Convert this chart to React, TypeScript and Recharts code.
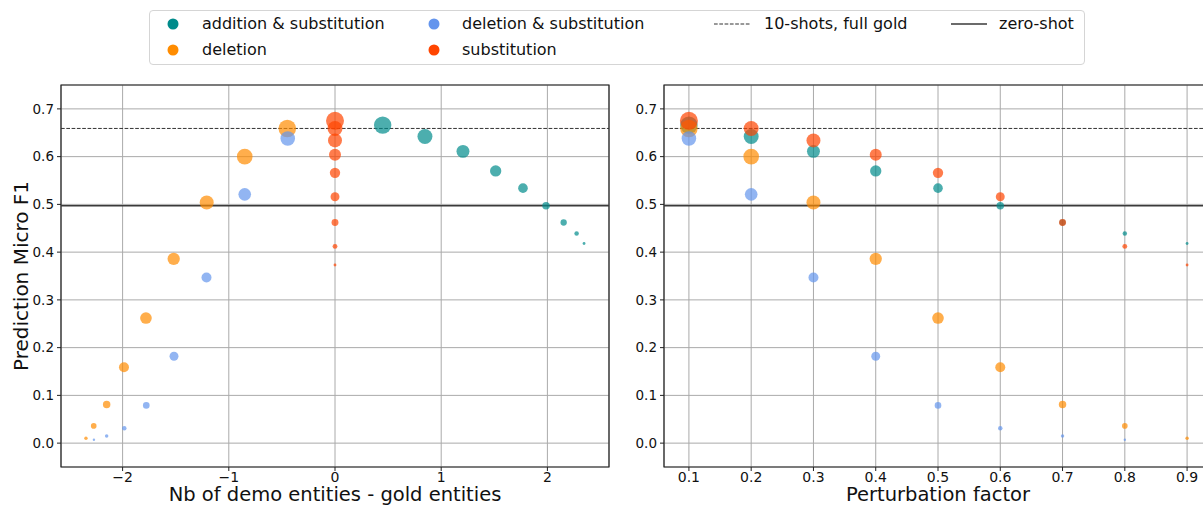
import React from 'react';
import {
  ScatterChart,
  Scatter,
  XAxis,
  YAxis,
  ZAxis,
  CartesianGrid,
  ReferenceLine,
  ReferenceArea,
} from 'recharts';

// perturbation factor shared by every series
const perturbation = [0.1, 0.2, 0.3, 0.4, 0.5, 0.6, 0.7, 0.8, 0.9];

// addition & substitution
const addSubDelta = [0.449, 0.847, 1.205, 1.513, 1.77, 1.987, 2.153, 2.275, 2.345];
const addSubF1 = [0.666, 0.642, 0.611, 0.57, 0.534, 0.497, 0.462, 0.439, 0.418];
const addSubSize = [76, 56, 42, 32, 23, 14, 10, 5, 2];

// deletion
const delDelta = [-0.449, -0.85, -1.208, -1.519, -1.78, -1.987, -2.15, -2.272, -2.345];
const delF1 = [0.659, 0.6, 0.504, 0.386, 0.262, 0.159, 0.081, 0.036, 0.01];
const delSize = [77, 61, 49, 38, 34, 25, 14, 8, 3];

// deletion & substitution
const delSubDelta = [-0.445, -0.85, -1.21, -1.516, -1.777, -1.984, -2.15, -2.27, -2.345];
const delSubF1 = [0.638, 0.521, 0.347, 0.182, 0.079, 0.031, 0.015, 0.007, 0.0];
const delSubSize = [53, 40, 25, 20, 11, 5, 3, 1.4, 0];

// substitution
const subDelta = [0, 0, 0, 0, 0, 0, 0, 0, 0];
const subF1 = [0.675, 0.659, 0.634, 0.604, 0.566, 0.516, 0.462, 0.412, 0.373];
const subSize = [81, 56, 49, 36, 27, 20, 12, 6, 2];

const fewShotF1 = 0.659; // 10-shots, full gold
const zeroShotF1 = 0.497;

const deltaTicks = [-2, -1, 0, 1, 2];
const factorTicks = [0.1, 0.2, 0.3, 0.4, 0.5, 0.6, 0.7, 0.8, 0.9];
const f1Ticks = [0, 0.1, 0.2, 0.3, 0.4, 0.5, 0.6, 0.7];

const COLORS = {
  addSub: '#008B8B',
  del: '#FF8C00',
  delSub: '#6495ED',
  sub: '#FF4500',
};

const build = (delta: number[], f1: number[], size: number[]) =>
  perturbation.map((p, i) => ({ p, delta: delta[i], f1: f1[i], z: size[i] }));

const series = [
  { key: 'addSub', name: 'addition & substitution', data: build(addSubDelta, addSubF1, addSubSize) },
  { key: 'del', name: 'deletion', data: build(delDelta, delF1, delSize) },
  { key: 'delSub', name: 'deletion & substitution', data: build(delSubDelta, delSubF1, delSubSize) },
  { key: 'sub', name: 'substitution', data: build(subDelta, subF1, subSize) },
];

const FONT = '"DejaVu Sans", sans-serif';

const bubble = (color: string) => (props: any) => {
  const { cx, cy, width, size } = props;
  const r = typeof width === 'number' ? width / 2 : Math.sqrt((size ?? 0) / Math.PI);
  if (!(r > 0) || cx == null || cy == null) return <g />;
  return <circle cx={cx} cy={cy} r={r} fill={color} fillOpacity={0.7} />;
};

const minus = (v: number) => (v < 0 ? `\u2212${Math.abs(v)}` : `${v}`);

type PanelProps = {
  xKey: string;
  xDomain: [number, number];
  xTicks: number[];
  xFormat: (v: number) => string;
  width: number;
  yWidth: number;
  right: number;
};

const Panel = ({ xKey, xDomain, xTicks, xFormat, width, yWidth, right }: PanelProps) => (
  <ScatterChart width={width} height={506} margin={{ top: 85, right, bottom: 0, left: 0 }}>
    <CartesianGrid stroke="#aaaaaa" strokeWidth={1} />
    <XAxis
      type="number"
      dataKey={xKey}
      domain={xDomain}
      ticks={xTicks}
      allowDataOverflow
      height={39}
      axisLine={false}
      tickSize={4}
      tickMargin={1}
      tickLine={{ stroke: '#222' }}
      tick={{ fill: '#111', fontSize: 14, fontFamily: FONT }}
      tickFormatter={xFormat}
    />
    <YAxis
      type="number"
      dataKey="f1"
      domain={[-0.05, 0.75]}
      ticks={f1Ticks}
      allowDataOverflow
      width={yWidth}
      axisLine={false}
      tickSize={4}
      tickMargin={3}
      tickLine={{ stroke: '#222' }}
      tick={{ fill: '#111', fontSize: 13.5, fontFamily: FONT }}
      tickFormatter={(v: number) => v.toFixed(1)}
    />
    <ZAxis type="number" dataKey="z" domain={[0, 100]} range={[0, 100 * Math.PI]} />
    {series.map((s) => (
      <Scatter
        key={s.key}
        name={s.name}
        data={s.data}
        fill={COLORS[s.key as keyof typeof COLORS]}
        shape={bubble(COLORS[s.key as keyof typeof COLORS])}
        isAnimationActive={false}
      />
    ))}
    <ReferenceLine y={fewShotF1} stroke="#333" strokeWidth={1} strokeDasharray="3.7 1.6" />
    <ReferenceLine y={zeroShotF1} stroke="#3a3a3a" strokeWidth={1.5} />
    <ReferenceArea
      x1={xDomain[0]}
      x2={xDomain[1]}
      y1={-0.05}
      y2={0.75}
      fill="none"
      stroke="#222"
      strokeWidth={1.2}
      ifOverflow="visible"
    />
  </ScatterChart>
);

const LegendBox = () => {
  const text: React.CSSProperties = {
    position: 'absolute',
    fontSize: 16,
    lineHeight: '20px',
    color: '#111',
    whiteSpace: 'nowrap',
  };
  const dot = (left: number, top: number, color: string) => (
    <svg style={{ position: 'absolute', left: left - 6, top: top - 6 }} width={12} height={12}>
      <circle cx={6} cy={6} r={5.5} fill={color} />
    </svg>
  );
  return (
    <div
      style={{
        position: 'absolute',
        left: 149,
        top: 10,
        width: 936,
        height: 55,
        border: '1px solid #d5d5d5',
        borderRadius: 4,
        background: '#fff',
        boxSizing: 'border-box',
      }}
    >
      {dot(23, 13, COLORS.addSub)}
      <span style={{ ...text, left: 52, top: 3 }}>addition &amp; substitution</span>
      {dot(23, 39, COLORS.del)}
      <span style={{ ...text, left: 52, top: 29 }}>deletion</span>
      {dot(284, 13, COLORS.delSub)}
      <span style={{ ...text, left: 312, top: 3 }}>deletion &amp; substitution</span>
      {dot(284, 39, COLORS.sub)}
      <span style={{ ...text, left: 312, top: 29 }}>substitution</span>
      <svg style={{ position: 'absolute', left: 564, top: 8 }} width={36} height={10}>
        <line x1={0} y1={5} x2={36} y2={5} stroke="#333" strokeWidth={1} strokeDasharray="3.7 1.6" />
      </svg>
      <span style={{ ...text, left: 614, top: 3 }}>10-shots, full gold</span>
      <svg style={{ position: 'absolute', left: 801, top: 8 }} width={36} height={10}>
        <line x1={0} y1={5} x2={36} y2={5} stroke="#3a3a3a" strokeWidth={1.5} />
      </svg>
      <span style={{ ...text, left: 849, top: 3 }}>zero-shot</span>
    </div>
  );
};

export default function App() {
  return (
    <div
      style={{
        position: 'absolute',
        left: 0,
        top: 0,
        width: 1203,
        height: 506,
        overflow: 'hidden',
        background: '#fff',
        fontFamily: FONT,
      }}
    >
      <div style={{ position: 'absolute', left: 0, top: 0 }}>
        <Panel
          xKey="delta"
          xDomain={[-2.58, 2.58]}
          xTicks={deltaTicks}
          xFormat={minus}
          width={620}
          yWidth={61}
          right={11}
        />
      </div>
      <div style={{ position: 'absolute', left: 610, top: 0 }}>
        <Panel
          xKey="p"
          xDomain={[0.06, 0.94]}
          xTicks={factorTicks}
          xFormat={(v: number) => v.toFixed(1)}
          width={610}
          yWidth={54}
          right={8}
        />
      </div>
      <svg
        style={{ position: 'absolute', left: 0, top: 0, pointerEvents: 'none' }}
        width={1203}
        height={506}
      >
        <text
          transform="translate(28,276) rotate(-90)"
          textAnchor="middle"
          fontSize={20}
          fontFamily={FONT}
          fill="#111"
        >
          Prediction Micro F1
        </text>
        <text x={335} y={501} textAnchor="middle" fontSize={19.5} fontFamily={FONT} fill="#111">
          Nb of demo entities - gold entities
        </text>
        <text x={938} y={501} textAnchor="middle" fontSize={19.5} fontFamily={FONT} fill="#111">
          Perturbation factor
        </text>
      </svg>
      <LegendBox />
    </div>
  );
}
